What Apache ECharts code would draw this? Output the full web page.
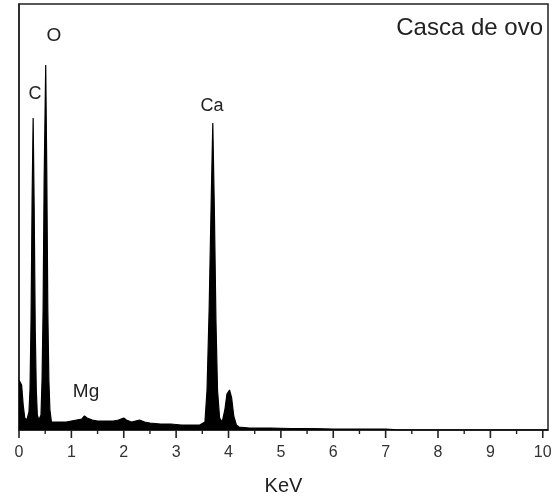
<!DOCTYPE html>
<html>
<head>
<meta charset="utf-8">
<script src="https://cdn.jsdelivr.net/npm/echarts@6/dist/echarts.min.js"></script>
<style>html,body{margin:0;padding:0;background:#fff}#c{width:559px;height:502px}</style>
</head>
<body>
<div id="c"></div>
<script>
// Energy (KeV) and counts (arbitrary units)
const energy = [0.00,0.02,0.05,0.08,0.11,0.15,0.19,0.21,0.23,0.25,0.27,0.29,0.31,0.33,0.35,0.38,0.42,0.44,0.46,0.48,0.51,0.53,0.55,0.57,0.59,0.62,0.65,0.70,0.80,0.90,1.00,1.10,1.20,1.25,1.30,1.40,1.50,1.60,1.70,1.80,1.90,2.00,2.05,2.15,2.30,2.40,2.50,2.70,2.90,3.10,3.30,3.45,3.55,3.59,3.63,3.67,3.70,3.73,3.76,3.79,3.83,3.88,3.93,3.97,4.02,4.06,4.10,4.15,4.20,4.40,4.80,5.20,5.60,6.00,6.50,7.00,7.15,7.20,10.10];
const counts = [50,52,45,25,12,10,18,40,110,230,312,220,100,40,15,10,15,50,120,250,365,260,120,50,20,8,6,8,8,8,9,10,11,14,12,10,9,9,9,9,10,12,10,8,10,8,7,6,6,5,5,5,8,40,120,230,307,220,110,40,12,8,20,36,40,32,14,5,3,2,2,1.5,1.5,1,1,1,0.5,0,0];
const majorTicks = [0,1,2,3,4,5,6,7,8,9,10];
const minorTicks = [0.5,1.5,2.5,3.5,4.5,5.5,6.5,7.5,8.5,9.5];
const peakLabels = ['O','C','Ca','Mg'];
const sampleTitle = 'Casca de ovo';
const axisTitle = 'KeV';

const data = energy.map((e, i) => [e, counts[i]]);
const chart = echarts.init(document.getElementById('c'));
const font = 'Liberation Sans, Arial, sans-serif';
const txt = (s, x, y, size, align) => ({
  type: 'text', x: x, y: y,
  style: { text: s, fill: '#222', font: size + 'px ' + font, textAlign: align || 'center', textVerticalAlign: 'middle' }
});
const texts = [
  txt(peakLabels[0], 54, 36, 19),
  txt(peakLabels[1], 35, 94, 18),
  txt(peakLabels[2], 212, 106, 18),
  txt(peakLabels[3], 86, 392, 19),
  txt(sampleTitle, 543, 28, 24, 'right')
];
chart.setOption({
  animation: false,
  grid: { left: 19, right: 11, top: 4, bottom: 72, show: true, borderColor: '#222', borderWidth: 1.5 },
  xAxis: {
    type: 'value', min: 0, max: 10.1, interval: 1,
    name: axisTitle, nameLocation: 'middle', nameGap: 46,
    nameTextStyle: { fontSize: 20, fontFamily: font, color: '#222' },
    axisLine: { show: true, lineStyle: { color: '#222', width: 1.5 } },
    axisTick: { show: false },
    splitLine: { show: false },
    axisLabel: { margin: 15, fontSize: 16, fontFamily: font, color: '#333', showMaxLabel: false }
  },
  yAxis: {
    type: 'value', min: 0, max: 426,
    axisLine: { show: true, lineStyle: { color: '#222', width: 1.5 } },
    axisTick: { show: false }, axisLabel: { show: false }, splitLine: { show: false }
  },
  series: [{
    type: 'line', data: data, symbol: 'none',
    lineStyle: { color: '#000', width: 1.2 },
    areaStyle: { color: '#000', opacity: 1 }
  }],
  graphic: texts
});
// Tick marks placed through the axis scale
const y0 = chart.convertToPixel({ yAxisIndex: 0 }, 0);
const tickLine = (v, len, w) => {
  const x = chart.convertToPixel({ xAxisIndex: 0 }, v);
  return { type: 'line', shape: { x1: x, y1: y0, x2: x, y2: y0 + len }, style: { stroke: '#222', lineWidth: w } };
};
const ticks = majorTicks.map(v => tickLine(v, 8, 1.6)).concat(minorTicks.map(v => tickLine(v, 4, 1.4)));
chart.setOption({ graphic: texts.concat(ticks) });
</script>
</body>
</html>
